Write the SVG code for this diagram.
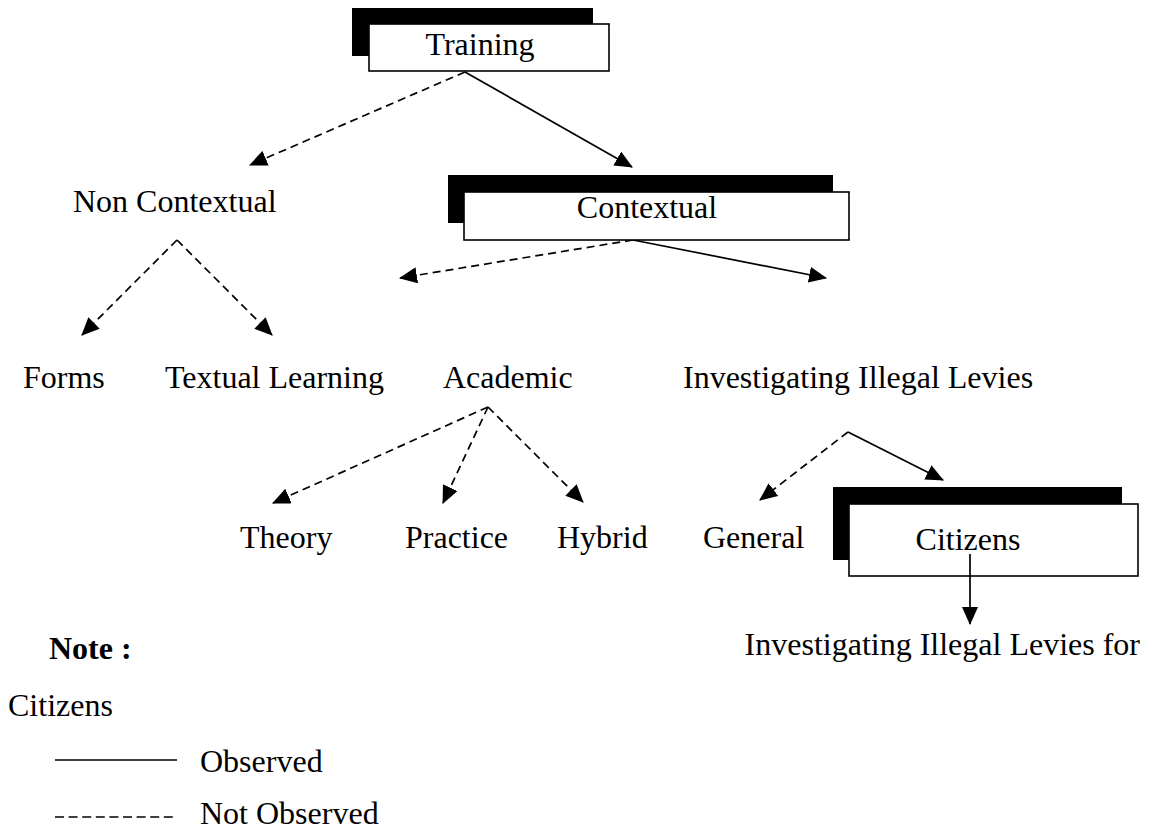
<svg xmlns="http://www.w3.org/2000/svg" width="1152" height="832" viewBox="0 0 1152 832">
<defs>
<style>
text{font-family:"Liberation Serif","Times New Roman",serif;font-size:32px;fill:#000}
.b{font-weight:bold}
.m{text-anchor:middle}
.shadow{fill:#000}
.box{fill:#fff;stroke:#000;stroke-width:1.6}
.solid{stroke:#000;stroke-width:1.7;fill:none}
.dash{stroke:#000;stroke-width:1.7;fill:none;stroke-dasharray:8 5}
.arr{marker-end:url(#ah)}
</style>
<marker id="ah" markerUnits="userSpaceOnUse" markerWidth="18" markerHeight="16" viewBox="0 0 18 16" refX="17" refY="8" orient="auto">
<path d="M0,0 L18,8 L0,16 Z" fill="#000"/>
</marker>
</defs>
<rect width="1152" height="832" fill="#fff"/>
<g id="connectors">
<line class="dash arr" x1="465" y1="72" x2="250" y2="165"/>
<line class="solid arr" x1="465" y1="72" x2="632" y2="167"/>
<line class="dash arr" x1="177" y1="240" x2="82" y2="335"/>
<line class="dash arr" x1="177" y1="240" x2="272" y2="335"/>
<line class="dash arr" x1="633" y1="240" x2="400" y2="278"/>
<line class="solid arr" x1="633" y1="240" x2="826" y2="278"/>
<line class="dash arr" x1="488" y1="407" x2="273" y2="503"/>
<line class="dash arr" x1="488" y1="407" x2="443" y2="503"/>
<line class="dash arr" x1="488" y1="407" x2="583" y2="502"/>
<line class="dash arr" x1="848" y1="432" x2="760" y2="500"/>
<line class="solid arr" x1="848" y1="432" x2="943" y2="480"/>
</g>
<g id="training">
<rect class="shadow" x="352" y="8" width="241" height="48"/>
<rect class="box" x="369" y="24" width="240" height="47"/>
<text class="m" x="480" y="55">Training</text>
</g>
<g id="non-contextual"><text x="73" y="212">Non Contextual</text></g>
<g id="contextual">
<rect class="shadow" x="448" y="175" width="385" height="48"/>
<rect class="box" x="464" y="192" width="385" height="48"/>
<text class="m" x="647" y="218">Contextual</text>
</g>
<g id="forms"><text x="23" y="388">Forms</text></g>
<g id="textual-learning"><text x="165" y="388">Textual Learning</text></g>
<g id="academic"><text x="443" y="388">Academic</text></g>
<g id="investigating"><text x="683" y="388">Investigating Illegal Levies</text></g>
<g id="theory"><text x="240" y="548">Theory</text></g>
<g id="practice"><text x="405" y="548">Practice</text></g>
<g id="hybrid"><text x="557" y="548">Hybrid</text></g>
<g id="general"><text x="703" y="548">General</text></g>
<g id="citizens">
<rect class="shadow" x="833" y="487" width="289" height="73"/>
<rect class="box" x="849" y="504" width="289" height="72"/>
<text class="m" x="968" y="550">Citizens</text>
</g>
<g id="connector-citizens">
<line class="solid arr" x1="970" y1="554" x2="970" y2="624"/>
</g>
<g id="iil-citizens"><text x="1140" y="655" style="text-anchor:end">Investigating Illegal Levies for</text></g>
<g id="note">
<text class="b" x="49" y="659">Note :</text>
<text x="8" y="716">Citizens</text>
<line class="solid" x1="55" y1="760" x2="177" y2="760"/>
<text x="200" y="772">Observed</text>
<line class="dash" x1="55" y1="817" x2="177" y2="817" style="stroke-dasharray:9 4.6"/>
<text x="200" y="824">Not Observed</text>
</g>
</svg>
